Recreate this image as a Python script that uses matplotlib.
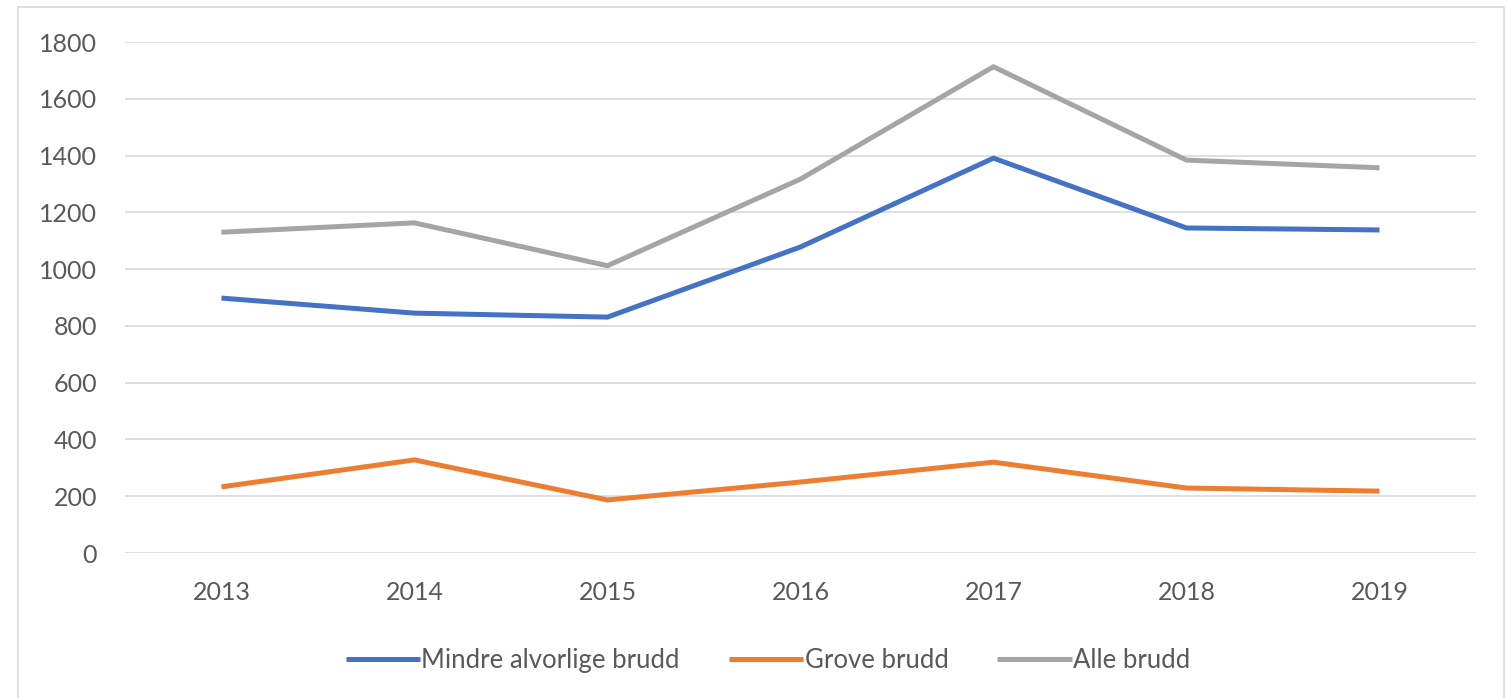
import matplotlib.pyplot as plt
from matplotlib.patches import Rectangle

plt.rcParams['font.family'] = ['Lato', 'DejaVu Sans']

years = ['2013', '2014', '2015', '2016', '2017', '2018', '2019']
mindre = [898, 845, 831, 1078, 1391, 1145, 1138]
grove = [233, 328, 187, 250, 320, 229, 218]
alle = [1130, 1163, 1012, 1317, 1713, 1384, 1357]
yticks = [0, 200, 400, 600, 800, 1000, 1200, 1400, 1600, 1800]

fig = plt.figure(figsize=(15.07, 6.98), dpi=100)
ax = fig.add_axes([0.0829, 0.2077, 0.8965, 0.7321])

# chart border
fig.patches.append(Rectangle((0.012, -0.01), 0.986, 1.0, transform=fig.transFigure,
                             fill=False, edgecolor='#d9d9d9', linewidth=1.2))

x = range(len(years))
ax.plot(x, mindre, color='#4472C4', lw=3.6, label='Mindre alvorlige brudd', solid_capstyle='butt')
ax.plot(x, grove, color='#ED7D31', lw=3.6, label='Grove brudd', solid_capstyle='butt')
ax.plot(x, alle, color='#A5A5A5', lw=3.6, label='Alle brudd', solid_capstyle='butt')

ax.set_xlim(-0.5, len(years) - 0.5)
ax.set_ylim(0, 1800)
ax.set_yticks(yticks)
ax.set_xticks(list(x))
ax.set_xticklabels(years)
ax.grid(axis='y', color='#d9d9d9', lw=1.2)
ax.set_axisbelow(True)
for s in ax.spines.values():
    s.set_visible(False)
ax.tick_params(length=0, labelsize=18, colors='#595959')
ax.tick_params(axis='y', pad=20)
ax.tick_params(axis='x', pad=20)

ax.legend(loc='upper center', bbox_to_anchor=(0.476, -0.14), ncol=3, frameon=False,
          fontsize=18.5, labelcolor='#595959', handlelength=2.9, handletextpad=0.05,
          columnspacing=1.9)

fig.savefig('out.png', dpi=100)
